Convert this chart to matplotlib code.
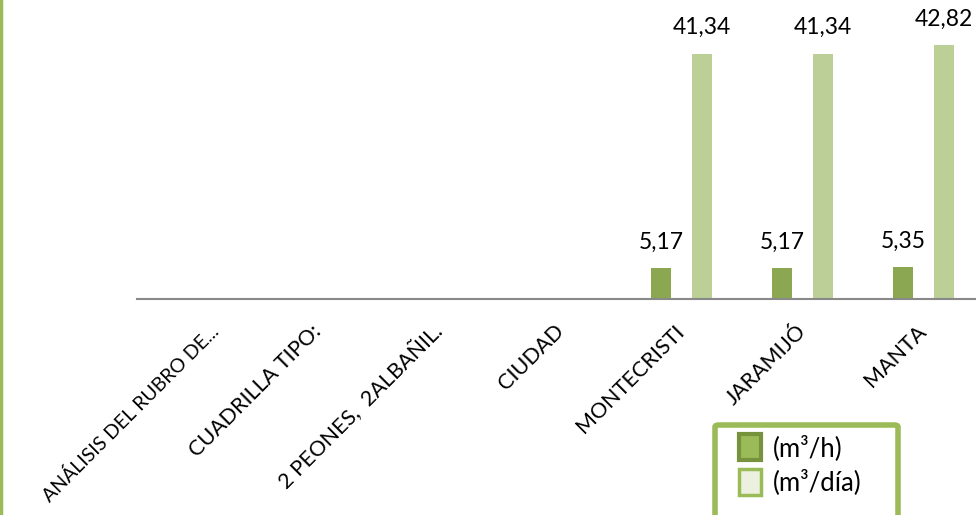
import matplotlib
matplotlib.use("Agg")
import matplotlib.pyplot as plt
import matplotlib.transforms as mtransforms
import numpy as np
from matplotlib.patches import Patch, FancyBboxPatch
from matplotlib.lines import Line2D

plt.rcParams['font.family'] = ['Lato', 'DejaVu Sans']

categories = ['ANÁLISIS DEL RUBRO DE...', 'CUADRILLA TIPO:', '2 PEONES,  2ALBAÑIL.',
              'CIUDAD', 'MONTECRISTI', 'JARAMIJÓ', 'MANTA']
per_hour = [None, None, None, None, 5.17, 5.17, 5.35]
per_day = [None, None, None, None, 41.34, 41.34, 42.82]
series_names = ['(m³/h)', '(m³/día)']

dark_green = '#8BA751'
light_green = '#BBCF97'
frame_green = '#9BBB59'

W, H = 976, 515
fig = plt.figure(figsize=(W / 100, H / 100), dpi=100)
ax = fig.add_axes([137 / W, 1 - 299 / H, 847 / W, 299 / H])

x = np.arange(len(categories))
w = 0.165
off = 0.17
for i in range(len(categories)):
    if per_hour[i] is not None:
        ax.bar(x[i] - off, per_hour[i], width=w, color=dark_green)
        ax.text(x[i] - off, per_hour[i] + 2.6, f"{per_hour[i]:.2f}".replace('.', ','),
                ha='center', va='bottom', fontsize=16.5)
    if per_day[i] is not None:
        ax.bar(x[i] + off, per_day[i], width=w, color=light_green)
        ax.text(x[i] + off, per_day[i] + 2.6, f"{per_day[i]:.2f}".replace('.', ','),
                ha='center', va='bottom', fontsize=16.5)

ax.set_xlim(-0.5, len(categories) - 0.5)
ax.set_ylim(0, 50.4)
for s in ['top', 'right', 'left']:
    ax.spines[s].set_visible(False)
ax.spines['bottom'].set_color('#898989')
ax.spines['bottom'].set_linewidth(1.5)
ax.set_yticks([])
ax.set_xticks(x)
ax.set_xticklabels(categories, rotation=45, ha='right', va='center',
                   rotation_mode='anchor', fontsize=15.5)
ax.tick_params(axis='x', length=0, pad=21)
# the long first label is a bit smaller and nudged right so it stays inside the figure
first = ax.get_xticklabels()[0]
first.set_fontsize(14)
first.set_transform(first.get_transform() +
                    mtransforms.ScaledTranslation(18 / 100, 0, fig.dpi_scale_trans))

# green frame edge on the left
fig.add_artist(Line2D([1 / W, 1 / W], [0, 1], transform=fig.transFigure,
                      color=frame_green, linewidth=2.5))

# legend frame, running off the bottom edge
frame = FancyBboxPatch((715 / W, -20 / H), 183 / W, (90 + 20) / H,
                       boxstyle='round,pad=0,rounding_size=0.004',
                       transform=fig.transFigure, facecolor='white',
                       edgecolor=frame_green, linewidth=4)
fig.add_artist(frame)

handles = [Patch(facecolor='#9BBB59', edgecolor='#76923C', linewidth=3),
           Patch(facecolor='#EBF1DE', edgecolor=frame_green, linewidth=2.5)]
leg = fig.legend(handles, series_names, loc='upper left',
                 bbox_to_anchor=(739 / W, 1 - 434 / H), bbox_transform=fig.transFigure,
                 fontsize=18.5, handlelength=0.85, handleheight=1.2, handletextpad=0.45,
                 labelspacing=0.3, borderpad=0, borderaxespad=0, frameon=False)
leg.set_zorder(frame.get_zorder() + 1)

fig.savefig('out.png', dpi=100)
